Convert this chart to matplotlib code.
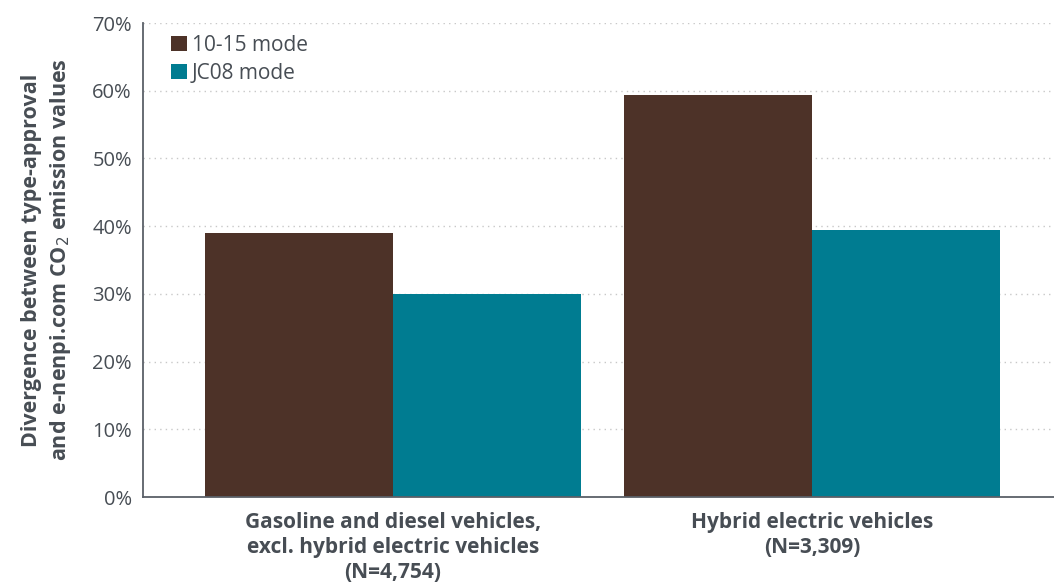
import matplotlib
matplotlib.use("Agg")
import matplotlib.pyplot as plt
import numpy as np
from matplotlib.ticker import PercentFormatter

categories = [
    "Gasoline and diesel vehicles,\nexcl. hybrid electric vehicles\n(N=4,754)",
    "Hybrid electric vehicles\n(N=3,309)",
]
mode_1015 = [39.0, 59.4]
mode_jc08 = [30.0, 39.4]
series_names = ["10-15 mode", "JC08 mode"]

BROWN = "#4d3228"
TEAL = "#007c91"
TEXT = "#474d54"

plt.rcParams.update({
    "font.family": ["Open Sans", "DejaVu Sans"],
    "font.size": 14,
    "text.color": TEXT,
    "axes.labelcolor": TEXT,
    "xtick.color": TEXT,
    "ytick.color": TEXT,
})

fig = plt.figure(figsize=(10.54, 5.83), dpi=100)
ax = fig.add_axes([0.1357, 0.1475, 0.8643, 0.813])

x = np.arange(len(categories))
w = 0.449
ax.bar(x - w / 2, mode_1015, w, color=BROWN, label=series_names[0], zorder=2)
ax.bar(x + w / 2, mode_jc08, w, color=TEAL, label=series_names[1], zorder=2)

ax.set_ylim(0, 70)
ax.set_xlim(-0.597, 1.578)
ax.set_yticks(range(0, 71, 10))
ax.yaxis.set_major_formatter(PercentFormatter(decimals=0))
ax.set_xticks(x)
ax.set_xticklabels(categories, fontweight="bold", fontsize=15, linespacing=1.25)
ax.tick_params(axis="both", length=0)
ax.tick_params(axis="y", labelsize=14.5, pad=8)
ax.tick_params(axis="x", pad=11)

ax.grid(axis="y", linestyle=(0, (1, 3)), color="#c8c8c8", linewidth=1, zorder=0)
for s in ["top", "right"]:
    ax.spines[s].set_visible(False)
for s in ["left", "bottom"]:
    ax.spines[s].set_color("#5a6068")
    ax.spines[s].set_linewidth(1.3)

ax.set_ylabel("Divergence between type-approval\nand e-nenpi.com CO$_2$ emission values",
              fontweight="bold", fontsize=15.5, labelpad=14, linespacing=1.3)

ax.legend(loc="upper left", bbox_to_anchor=(0.01, 1.015), frameon=False,
          handlelength=0.75, handleheight=0.75, handletextpad=0.25,
          labelspacing=0.35, fontsize=15)

fig.savefig("out.png", dpi=100)
